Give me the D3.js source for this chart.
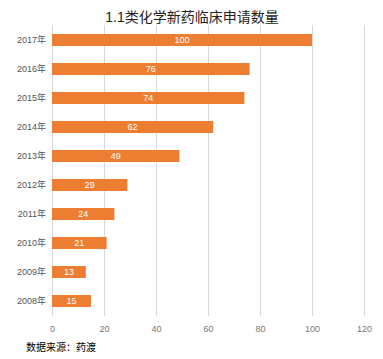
<!DOCTYPE html>
<html><head><meta charset="utf-8">
<script src="https://cdn.jsdelivr.net/npm/d3@7"></script>
<style>body{margin:0;background:#fff;}svg{display:block;}</style>
</head><body>
<svg id="c" width="383" height="359"></svg>
<script>
const categories = ["2017年","2016年","2015年","2014年","2013年","2012年","2011年","2010年","2009年","2008年"];
const values = [100,76,74,62,49,29,24,21,13,15];
const xTicks = [0,20,40,60,80,100,120];
const title = "1.1类化学新药临床申请数量";
const source = "数据来源：药渡";

const svg = d3.select("#c");
const font = "'Liberation Sans','Noto Sans CJK SC',sans-serif";
const x = d3.scaleLinear().domain([0,120]).range([52,364]);
const y = d3.scaleBand().domain(categories).range([25.5,315.5]).paddingInner(0.586).paddingOuter(0.293);

svg.append("text").attr("x",192).attr("y",22).attr("text-anchor","middle")
  .attr("font-family",font).attr("font-size",14).attr("fill","#222").text(title);

svg.append("g").selectAll("line").data(xTicks).join("line")
  .attr("x1",d=>x(d)).attr("x2",d=>x(d)).attr("y1",25).attr("y2",316)
  .attr("stroke","#d9d9d9").attr("stroke-width",1).attr("shape-rendering","crispEdges");

const xa = svg.append("g").attr("transform","translate(0,316)")
  .call(d3.axisBottom(x).tickValues(xTicks).tickSize(0).tickPadding(10));
xa.select(".domain").remove();
xa.selectAll("text").attr("font-family",font).attr("font-size",9).attr("fill","#777");

svg.append("g").selectAll("rect").data(values).join("rect")
  .attr("x",x(0)).attr("y",(d,i)=>y(categories[i])).attr("width",d=>x(d)-x(0))
  .attr("height",y.bandwidth()).attr("fill","#ED7D31");

svg.append("g").selectAll("text").data(values).join("text")
  .attr("x",d=>(x(0)+x(d))/2).attr("y",(d,i)=>y(categories[i])+y.bandwidth()/2)
  .attr("dy","0.35em").attr("text-anchor","middle").attr("font-family",font)
  .attr("font-size",9).attr("fill","#fff").text(d=>d);

svg.append("g").selectAll("text").data(categories).join("text")
  .attr("x",46).attr("y",d=>y(d)+y.bandwidth()/2).attr("dy","0.35em")
  .attr("text-anchor","end").attr("font-family",font).attr("font-size",9)
  .attr("fill","#555").text(d=>d);

svg.append("text").attr("x",26).attr("y",351).attr("font-family",font)
  .attr("font-size",10).attr("fill","#000").text(source);
</script>
</body></html>
